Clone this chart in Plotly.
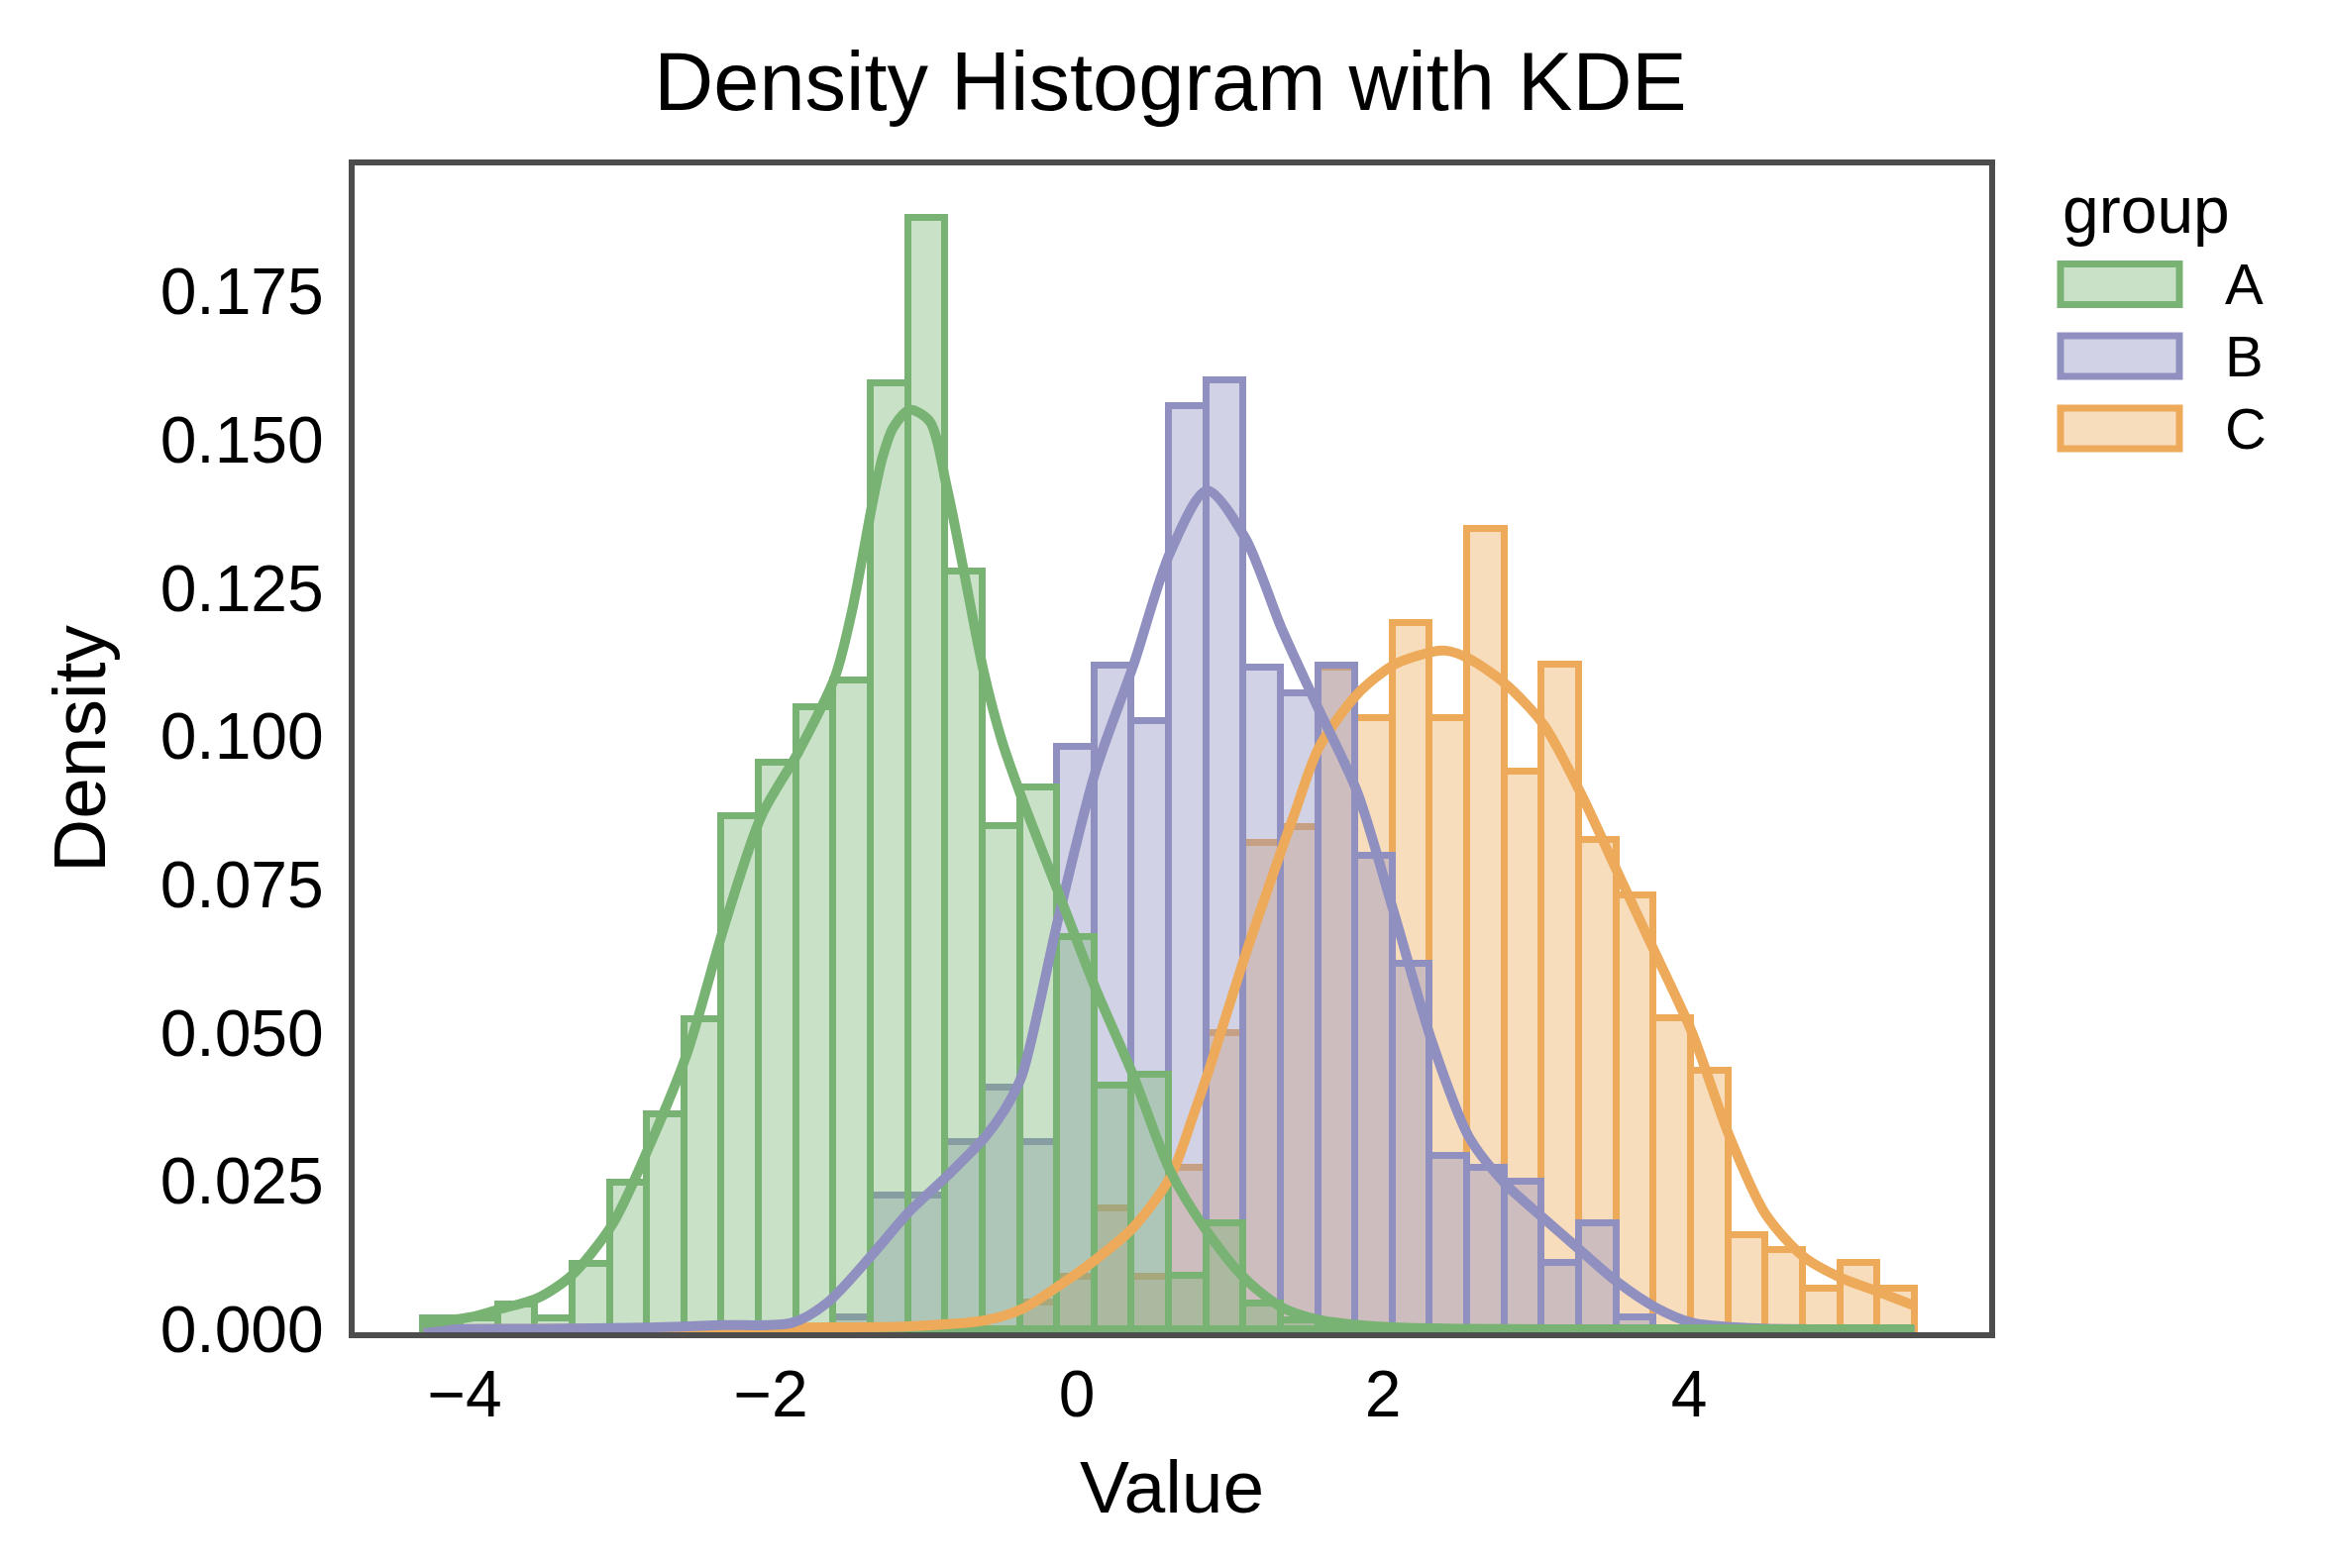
import plotly.graph_objects as go
# histogram + kde


# bin edges (common bins for all groups)
bin_edges = [-4.270, -4.026, -3.783, -3.539, -3.296, -3.052, -2.808, -2.565, -2.321, -2.078,
             -1.834, -1.590, -1.347, -1.103, -0.860, -0.616, -0.372, -0.129, 0.115, 0.358,
             0.602, 0.846, 1.089, 1.333, 1.576, 1.820, 2.064, 2.307, 2.551, 2.794,
             3.038, 3.282, 3.525, 3.769, 4.012, 4.256, 4.500, 4.743, 4.987, 5.230, 5.474]

# density per bin
dens_a = [0.0019, 0.0019, 0.0042, 0.0019, 0.0110, 0.0247, 0.0363, 0.0522, 0.0865, 0.0955,
          0.1048, 0.1093, 0.1594, 0.1873, 0.1278, 0.0848, 0.0913, 0.0662, 0.0411, 0.0429,
          0.0090, 0.0178, 0.0043, 0.0015, 0, 0, 0, 0, 0, 0,
          0, 0, 0, 0, 0, 0, 0, 0, 0, 0]
dens_b = [0, 0, 0, 0, 0, 0, 0, 0, 0, 0,
          0, 0.0020, 0.0225, 0.0225, 0.0316, 0.0407, 0.0316, 0.0982, 0.1118, 0.1026,
          0.1556, 0.1600, 0.1115, 0.1072, 0.1118, 0.0798, 0.0616, 0.0293, 0.0272, 0.0249,
          0.0112, 0.0179, 0.0020, 0, 0, 0, 0, 0, 0, 0]
dens_c = [0, 0, 0, 0, 0, 0, 0, 0, 0, 0,
          0, 0, 0, 0, 0, 0, 0.0045, 0.0088, 0.0203, 0.0088,
          0.0272, 0.0500, 0.0820, 0.0846, 0.1115, 0.1030, 0.1190, 0.1030, 0.1350, 0.0940,
          0.1120, 0.0825, 0.0732, 0.0525, 0.0435, 0.0158, 0.0134, 0.0068, 0.0112, 0.0068]

# kde curves (x, density)
kde_a_x = [-4.27, -3.95, -3.77, -3.52, -3.30, -3.03, -2.80, -2.55, -2.30, -2.06, -1.82, -1.58,
           -1.47, -1.33, -1.27, -1.20, -1.09, -0.96, -0.85, -0.74, -0.61, -0.49, -0.36, -0.12,
           0.12, 0.37, 0.61, 0.85, 1.10, 1.34, 1.58, 2.00, 2.50, 3.50, 5.47]
kde_a_y = [0.0010, 0.0021, 0.0034, 0.0053, 0.0091, 0.0179, 0.0305, 0.0463, 0.0683, 0.0866, 0.0973, 0.1100,
           0.1210, 0.1400, 0.1470, 0.1520, 0.1550, 0.1530, 0.1420, 0.1280, 0.1110, 0.0992, 0.0896, 0.0736,
           0.0576, 0.0427, 0.0267, 0.0165, 0.0085, 0.0037, 0.0016, 0.0004, 0.0001, 0.0, 0.0]
kde_b_x = [-4.27, -3.50, -2.80, -2.32, -1.86, -1.63, -1.34, -1.10, -0.85, -0.60, -0.47, -0.36,
           -0.12, 0.12, 0.37, 0.61, 0.85, 1.10, 1.34, 1.58, 1.83, 2.07, 2.32, 2.56,
           2.80, 3.05, 3.29, 3.53, 3.78, 4.02, 4.40, 5.00, 5.47]
kde_b_y = [0.0, 0.0001, 0.0003, 0.0007, 0.0011, 0.0045, 0.0125, 0.0197, 0.0258, 0.0324, 0.0371, 0.0427,
           0.0694, 0.0939, 0.1120, 0.1310, 0.1414, 0.1334, 0.1180, 0.1045, 0.0907, 0.0704, 0.0485, 0.0325,
           0.0245, 0.0187, 0.0133, 0.0080, 0.0037, 0.0011, 0.0002, 0.0, 0.0]
kde_c_x = [-4.27, -2.50, -1.86, -1.10, -0.60, -0.36, -0.12, 0.12, 0.37, 0.61, 0.76, 0.85,
           1.10, 1.34, 1.43, 1.58, 1.83, 2.07, 2.32, 2.41, 2.56, 2.80, 3.05, 3.29,
           3.53, 3.78, 4.02, 4.26, 4.50, 4.75, 4.99, 5.24, 5.47]
kde_c_y = [0.0, 0.0001, 0.0003, 0.0005, 0.0015, 0.0034, 0.0073, 0.0117, 0.0172, 0.0256, 0.0360, 0.0427,
           0.0630, 0.0810, 0.0875, 0.0980, 0.1070, 0.1120, 0.1142, 0.1144, 0.1131, 0.1088, 0.1019, 0.0905,
           0.0772, 0.0634, 0.0500, 0.0328, 0.0194, 0.0122, 0.0087, 0.0063, 0.0040]

groups = ['A', 'B', 'C']
x_ticks = [-4, -2, 0, 2, 4]
x_tick_text = ['\u22124', '\u22122', '0', '2', '4']
y_ticks = [0.0, 0.025, 0.05, 0.075, 0.1, 0.125, 0.15, 0.175]

colors = {'A': (120, 179, 116), 'B': (143, 143, 192), 'C': (237, 170, 90)}
FONT = 'Liberation Sans, Arial, sans-serif'


def rgb(c, a=1.0):
    return f'rgba({c[0]},{c[1]},{c[2]},{a})'


centers = [(bin_edges[i] + bin_edges[i + 1]) / 2 for i in range(len(bin_edges) - 1)]
widths = [bin_edges[i + 1] - bin_edges[i] for i in range(len(bin_edges) - 1)]
dens = {'A': dens_a, 'B': dens_b, 'C': dens_c}
kdes = {'A': (kde_a_x, kde_a_y), 'B': (kde_b_x, kde_b_y), 'C': (kde_c_x, kde_c_y)}

fig = go.Figure()

# seaborn draws the last hue first, so A ends on top
for g in reversed(groups):
    fig.add_trace(go.Bar(
        x=centers, y=dens[g], width=widths,
        marker=dict(color=rgb(colors[g], 0.4), line=dict(color=rgb(colors[g]), width=7)),
        name=g, showlegend=False,
    ))

for g in reversed(groups):
    kx, ky = kdes[g]
    fig.add_trace(go.Scatter(
        x=kx, y=ky, mode='lines',
        line=dict(color=rgb(colors[g]), width=10, shape='spline', smoothing=0.8),
        showlegend=False, hoverinfo='skip',
    ))

# plot area in pixels
L, R, T, B = 350, 347, 159, 246
W, H = 2347, 1583
pw, ph = W - L - R, H - T - B


def px(xr):
    return (xr - L) / pw


def py(yr):
    return (H - B - yr) / ph


shapes = []
annotations = []

# hand-made legend with wide swatches like matplotlib
legend_y = {'A': 279, 'B': 351.5, 'C': 424.5}
for g in groups:
    yc = legend_y[g]
    shapes.append(dict(
        type='rect', xref='paper', yref='paper',
        x0=px(2072), x1=px(2192), y0=py(yc + 20.5), y1=py(yc - 20.5),
        fillcolor=rgb(colors[g], 0.4), line=dict(color=rgb(colors[g]), width=7),
    ))
    annotations.append(dict(
        text=g, xref='paper', yref='paper', x=px(2236), y=py(yc),
        xanchor='left', yanchor='middle', showarrow=False,
        font=dict(family=FONT, size=58, color='black'),
    ))

annotations.append(dict(
    text='group', xref='paper', yref='paper', x=px(2072), y=py(204),
    xanchor='left', yanchor='middle', showarrow=False,
    font=dict(family=FONT, size=66, color='black'),
))
annotations.append(dict(
    text='Value', xref='paper', yref='paper', x=0.5, y=py(1493),
    xanchor='center', yanchor='middle', showarrow=False,
    font=dict(family=FONT, size=75, color='black'),
))
annotations.append(dict(
    text='Density', xref='paper', yref='paper', x=px(72), y=0.5,
    xanchor='center', yanchor='middle', showarrow=False, textangle=-90,
    font=dict(family=FONT, size=75, color='black'),
))

fig.update_layout(
    width=W, height=H,
    margin=dict(l=L, r=R, t=T, b=B),
    barmode='overlay', bargap=0,
    paper_bgcolor='white', plot_bgcolor='white',
    font=dict(family=FONT, color='black'),
    title=dict(text='Density Histogram with KDE', x=0.5, xanchor='center',
               y=1 - 74 / H, yanchor='middle', font=dict(family=FONT, size=83, color='black')),
    shapes=shapes,
    annotations=annotations,
    showlegend=False,
)

fig.update_xaxes(
    range=[-4.719, 5.961], tickvals=x_ticks, ticktext=x_tick_text,
    showgrid=False, zeroline=False,
    showline=True, mirror=True, linecolor='#4d4d4d', linewidth=6,
    ticks='',
    tickfont=dict(family=FONT, size=66, color='black'),
)
fig.update_yaxes(
    range=[-0.0005, 0.1962], tickvals=y_ticks, tickformat='.3f',
    showgrid=False, zeroline=False,
    showline=True, mirror=True, linecolor='#4d4d4d', linewidth=6,
    ticks='outside', ticklen=12, tickcolor='rgba(0,0,0,0)',
    tickfont=dict(family=FONT, size=66, color='black'),
)

fig.write_html("out.html")
